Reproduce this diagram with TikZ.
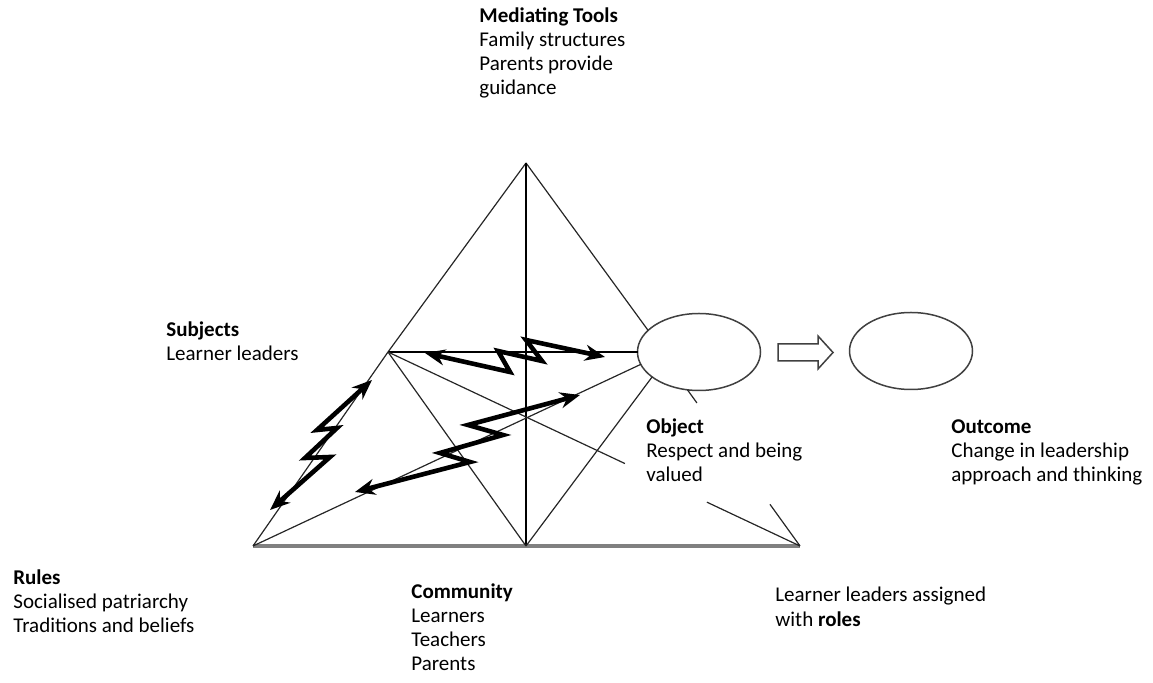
\documentclass[tikz,border=0pt]{standalone}
\usepackage{fontspec}
\setmainfont{Carlito}
\usetikzlibrary{arrows.meta,shapes.geometric,calc}

\begin{document}
\begin{tikzpicture}[x=0.5pt,y=-0.5pt,
  thinline/.style={draw=black!85, line width=0.6pt},
  axisline/.style={draw=black, line width=0.9pt},
  groundline/.style={draw=black!50, line width=1.6pt},
  zigarrow/.style={draw=black, line width=2.3pt, line join=miter,
    {Stealth[length=10pt,width=8pt]}-{Stealth[length=10pt,width=8pt]}},
  oval/.style={ellipse, draw=black!75, line width=0.75pt,
    minimum width=61.5pt, minimum height=38.5pt, inner sep=0pt, outer sep=0pt},
  blockarrow/.style={draw=black!75, line width=0.75pt, line join=miter},
  % multi-line labels are placed by the baseline of their last line
  txt/.style={anchor=base west, align=left, inner sep=0pt,
    font=\fontsize{10.5pt}{12pt}\selectfont}
]
\useasboundingbox (0,0) rectangle (1153,683);

% corners of the activity triangle
\coordinate (A) at (526,163);
\coordinate (S) at (388,352);
\coordinate (L) at (253,546);
\coordinate (M) at (526,546);
\coordinate (R) at (800,546);

% object and outcome
\node[oval] (O) at (699,352) {};
\node[oval] (U) at (911,351) {};

% base of the triangle
\draw[groundline] (L) -- (R);

% sides and inner links
\draw[thinline] (A) -- (S) -- (L);
\draw[thinline] (A) -- (O.157);
\draw[axisline] (A) -- (M);
\draw[axisline] (S) -- (O.west);
\draw[thinline] (S) -- (M);
\draw[thinline] (L) -- (O.192);
\draw[thinline] (O.208) -- (M);
\draw[thinline] (S) -- ($(S)!0.575!(R)$);
\draw[thinline] ($(S)!0.774!(R)$) -- (R);
\draw[thinline] (O.253) -- ($(O.253)!0.084!(R)$);
\draw[thinline] ($(O.253)!0.733!(R)$) -- (R);

% transition arrow from object to outcome
\draw[blockarrow] (778,344) -- (818,344) -- (818,336) -- (833,352.5)
  -- (818,369) -- (818,361) -- (778,361) -- cycle;

% contradictions
\coordinate (z1a) at (270,510);
\coordinate (z1b) at (372,380);
\draw[zigarrow] (z1a) -- (330,457) -- (305,458) -- (337,428) -- (317,430) -- (z1b);
\coordinate (z2a) at (425,353);
\coordinate (z2b) at (605,357);
\draw[zigarrow] (z2a) -- (510,372) -- (498,351) -- (542,361) -- (526,340) -- (z2b);
\coordinate (z3a) at (355,492);
\coordinate (z3b) at (580,395);
\draw[zigarrow] (z3a) -- (470,462) -- (440,453) -- (503,435) -- (468,425) -- (z3b);

% labels
\node[txt] (tools) at (479,95) {\textbf{Mediating Tools}\\Family structures\\Parents provide\\guidance};
\node[txt] (subj) at (166,361) {\textbf{Subjects}\\Learner leaders};
\node[txt] (objt) at (646,482) {\textbf{Object}\\Respect and being\\valued};
\node[txt] (outt) at (951,482) {\textbf{Outcome}\\Change in leadership\\approach and thinking};
\node[txt] (rules) at (13,633) {\textbf{Rules}\\Socialised patriarchy\\Traditions and beliefs};
\node[txt] (comm) at (411,671) {\textbf{Community}\\Learners\\Teachers\\Parents};
\node[txt] (roles) at (775,627) {Learner leaders assigned\\[0.5pt]with \textbf{roles}};
\end{tikzpicture}
\end{document}
